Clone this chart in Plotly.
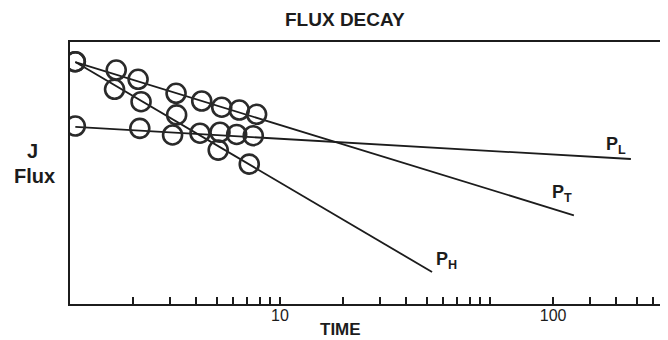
import math
import plotly.graph_objects as go

# ---- data (log-log axes) ----
# P_T series (circles) and its fitted line
t_T = [1.06, 1.66, 2.11, 3.2, 4.24, 5.28, 6.4, 7.74]
J_T = [0.797, 0.724, 0.651, 0.554, 0.507, 0.472, 0.457, 0.435]
fit_T_t = [1.06, 251]
fit_T_J = [0.794, 0.136]

# P_H series
t_H = [1.06, 1.63, 2.18, 3.22, 5.08, 7.14]
J_H = [0.797, 0.580, 0.503, 0.432, 0.288, 0.245]
fit_H_t = [1.06, 53]
fit_H_J = [0.794, 0.0708]

# P_L series
t_L = [1.06, 2.15, 3.08, 4.16, 5.18, 6.22, 7.46]
J_L = [0.380, 0.370, 0.343, 0.350, 0.354, 0.345, 0.340]
fit_L_t = [1.06, 469]
fit_L_J = [0.376, 0.260]

# tick marks on the time axis; the original prints "100" under the 200 mark
tick_vals = [2, 3, 4, 5, 6, 7, 8, 9, 10, 20, 30, 40, 50, 60, 70, 80, 90, 100,
             200, 300, 400, 500, 600]
tick_labels = {10: "10", 200: "100"}
tick_text = [tick_labels.get(v, "") for v in tick_vals]

line_labels = [("P", "L", fit_L_t[1], fit_L_J[1]),
               ("P", "T", fit_T_t[1], fit_T_J[1]),
               ("P", "H", fit_H_t[1], fit_H_J[1])]

INK = "#1c1c1c"
FONT = "Liberation Sans"

fig = go.Figure()
for tt, jj in [(fit_T_t, fit_T_J), (fit_H_t, fit_H_J), (fit_L_t, fit_L_J)]:
    fig.add_trace(go.Scatter(x=tt, y=jj, mode="lines",
                             line=dict(color=INK, width=1.8),
                             showlegend=False, hoverinfo="skip"))
for tt, jj in [(t_T, J_T), (t_H, J_H), (t_L, J_L)]:
    fig.add_trace(go.Scatter(x=tt, y=jj, mode="markers",
                             marker=dict(symbol="circle-open", size=19,
                                         color="#2a2a2a",
                                         line=dict(width=2.6, color="#2a2a2a")),
                             showlegend=False))

# curve labels placed just beyond the end of each fitted line (pixel offsets)
offsets = {"L": (-15, 14), "T": (-12, 22), "H": (14, 11)}
for p, sub, x, y in line_labels:
    dx, dy = offsets[sub]
    fig.add_annotation(x=math.log10(x), y=math.log10(y),
                       xref="x", yref="y", xshift=dx, yshift=dy,
                       xanchor="center", yanchor="middle",
                       showarrow=False,
                       text=f"<b>{p}</b><sub><b>{sub}</b></sub>",
                       font=dict(family=FONT, size=18, color=INK))

fig.update_xaxes(type="log", range=[0, 2.848], automargin=False,
                 tickvals=tick_vals, ticktext=tick_text, tickangle=0,
                 ticks="inside", ticklen=7, tickwidth=1.6, tickcolor=INK,
                 ticklabelstandoff=-4,
                 showline=True, linecolor=INK, linewidth=2, mirror=True,
                 showgrid=False, zeroline=False,
                 tickfont=dict(family=FONT, size=16, color=INK))
fig.update_yaxes(type="log", range=[-1.31, 0], automargin=False,
                 showticklabels=False, ticks="",
                 showline=True, linecolor=INK, linewidth=2,
                 showgrid=False, zeroline=False)

texts = [("<b>FLUX DECAY</b>", 0.46, 1.084, 19),
         ("<b>J</b>", -0.062, 0.584, 20),
         ("<b>Flux</b>", -0.059, 0.49, 20),
         ("<b>TIME</b>", 0.453, -0.099, 17)]
for txt, px, py, fs in texts:
    fig.add_annotation(text=txt, xref="paper", yref="paper", x=px, y=py,
                       xanchor="center", yanchor="middle", showarrow=False,
                       font=dict(family=FONT, size=fs, color=INK))

# the page body adds an 8 px offset, so the figure is 8 px smaller than the window
fig.update_layout(width=660, height=332,
                  margin=dict(l=62, r=0, t=34, b=36, pad=0),
                  paper_bgcolor="white", plot_bgcolor="white")

fig.write_html("out.html")
